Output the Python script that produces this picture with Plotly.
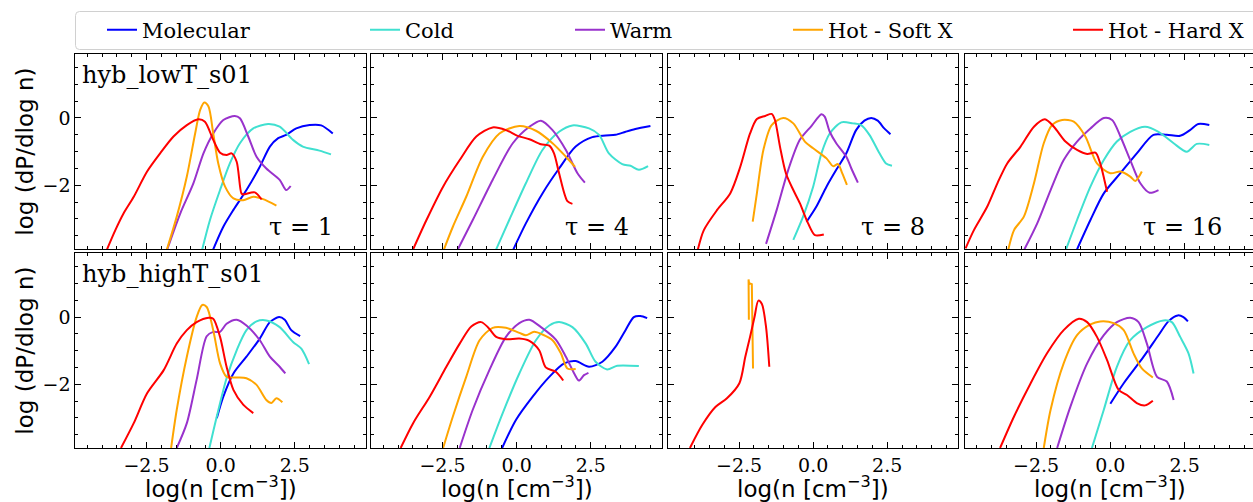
import plotly.graph_objects as go

W, H = 1253, 502

SERIES = ["Molecular", "Cold", "Warm", "Hot - Soft X", "Hot - Hard X"]
COLORS = ["#0000ff", "#40e0d0", "#9932cc", "#ffa500", "#ff0000"]
RUNS = ["hyb_lowT_s01", "hyb_highT_s01"]
TAUS = [1, 4, 8, 16]
X_TICKS = [-2.5, 0.0, 2.5]
Y_TICKS = [0, -2]

# ---------------- hyb_lowT_s01 ----------------
lowT_t1_mol_x = [-0.25, 0.09, 0.43, 0.87, 1.32, 1.66, 1.94, 2.21, 2.55, 3.00, 3.39, 3.78]
lowT_t1_mol_y = [-3.9, -3.23, -2.73, -2.14, -1.45, -0.85, -0.60, -0.50, -0.31, -0.21, -0.22, -0.46]
lowT_t1_cold_x = [-0.62, -0.36, -0.02, 0.31, 0.65, 1.10, 1.60, 1.99, 2.44, 2.77, 3.33, 3.72]
lowT_t1_cold_y = [-3.9, -3.03, -2.14, -1.35, -0.75, -0.31, -0.18, -0.26, -0.65, -0.85, -0.97, -1.08]
lowT_t1_warm_x = [-1.80, -1.36, -0.92, -0.58, -0.25, 0.09, 0.48, 0.65, 0.93, 1.21, 1.54, 1.99, 2.21, 2.36]
lowT_t1_warm_y = [-3.9, -2.83, -1.94, -1.05, -0.46, -0.06, 0.06, -0.01, -0.55, -1.15, -1.50, -1.84, -2.14, -2.02]
lowT_t1_soft_x = [-1.81, -1.48, -1.14, -0.86, -0.69, -0.55, -0.41, -0.25, -0.08, 0.15, 0.43, 0.76, 1.10, 1.43, 1.88]
lowT_t1_soft_y = [-3.9, -2.93, -1.74, -0.46, 0.24, 0.46, 0.34, -0.46, -1.35, -2.04, -2.39, -2.44, -2.34, -2.41, -2.60]
lowT_t1_hard_x = [-3.83, -3.55, -3.27, -2.93, -2.48, -2.04, -1.59, -1.14, -0.75, -0.53, -0.25, -0.02, 0.20, 0.37, 0.54, 0.70, 0.76, 1.15, 1.38]
lowT_t1_hard_y = [-3.9, -3.33, -2.83, -2.34, -1.59, -1.05, -0.55, -0.21, -0.04, -0.11, -0.65, -1.03, -1.10, -1.05, -1.30, -2.24, -2.27, -2.21, -2.42]

lowT_t4_mol_x = [-0.11, 0.31, 0.87, 1.43, 1.99, 2.55, 3.00, 3.33, 3.67, 4.00, 4.51]
lowT_t4_mol_y = [-3.9, -3.13, -2.24, -1.50, -0.85, -0.57, -0.52, -0.50, -0.41, -0.33, -0.24]
lowT_t4_cold_x = [-0.69, -0.25, 0.31, 0.87, 1.43, 1.88, 2.44, 2.78, 3.11, 3.56, 3.84, 4.12, 4.43]
lowT_t4_cold_y = [-3.9, -3.03, -1.94, -0.95, -0.41, -0.22, -0.31, -0.50, -1.05, -1.37, -1.42, -1.54, -1.43]
lowT_t4_warm_x = [-1.98, -1.48, -0.81, -0.13, 0.43, 0.82, 1.21, 1.66, 2.05, 2.30]
lowT_t4_warm_y = [-3.9, -3.03, -1.84, -0.75, -0.26, -0.08, -0.36, -0.95, -1.64, -1.92]
lowT_t4_soft_x = [-2.45, -2.15, -1.70, -1.14, -0.58, 0.09, 0.65, 1.21, 1.66, 1.97]
lowT_t4_soft_y = [-3.9, -3.23, -2.34, -1.15, -0.46, -0.24, -0.38, -0.75, -1.15, -1.45]
lowT_t4_hard_x = [-3.49, -3.04, -2.48, -1.92, -1.36, -0.81, -0.36, 0.03, 0.43, 0.82, 1.10, 1.26, 1.43, 1.71, 1.88]
lowT_t4_hard_y = [-3.9, -3.03, -2.04, -1.25, -0.55, -0.28, -0.36, -0.53, -0.63, -0.78, -0.82, -1.05, -1.64, -2.47, -2.55]

lowT_t8_mol_x = [-0.22, 0.11, 0.45, 0.78, 1.12, 1.45, 1.73, 1.96, 2.18, 2.40, 2.61]
lowT_t8_mol_y = [-3.08, -2.63, -2.04, -1.54, -1.05, -0.36, -0.08, 0.0, -0.08, -0.31, -0.48]
lowT_t8_cold_x = [-0.67, -0.34, 0.0, 0.28, 0.56, 0.95, 1.34, 1.62, 1.90, 2.24, 2.46, 2.66]
lowT_t8_cold_y = [-3.62, -2.93, -2.04, -1.05, -0.46, -0.13, -0.16, -0.21, -0.50, -1.05, -1.35, -1.42]
lowT_t8_warm_x = [-1.59, -1.23, -0.84, -0.45, -0.06, 0.28, 0.39, 0.56, 0.78, 1.12, 1.29, 1.51]
lowT_t8_warm_y = [-3.74, -2.73, -1.54, -0.65, -0.24, 0.11, 0.04, -0.41, -0.75, -1.15, -1.50, -1.92]
lowT_t8_soft_x = [-2.04, -1.90, -1.68, -1.40, -1.01, -0.67, -0.28, 0.0, 0.45, 0.67, 0.84, 0.98, 1.14]
lowT_t8_soft_y = [-3.08, -2.24, -0.95, -0.21, 0.0, -0.16, -0.70, -0.90, -1.20, -1.43, -1.37, -1.64, -1.99]
lowT_t8_hard_x = [-3.89, -3.69, -3.24, -2.80, -2.46, -2.13, -1.90, -1.62, -1.40, -1.29, -1.12, -0.92, -0.67, -0.45, -0.17, 0.06, 0.36]
lowT_t8_hard_y = [-3.9, -3.33, -2.73, -2.24, -1.45, -0.46, -0.03, 0.06, 0.12, -0.06, -0.85, -1.64, -2.14, -2.53, -3.13, -3.48, -3.46]

lowT_t16_mol_x = [-1.12, -0.67, -0.22, 0.34, 0.89, 1.45, 1.90, 2.35, 2.68, 2.96, 3.33]
lowT_t16_mol_y = [-3.9, -3.03, -2.24, -1.64, -1.05, -0.50, -0.50, -0.53, -0.36, -0.18, -0.21]
lowT_t16_cold_x = [-1.49, -1.12, -0.67, -0.22, 0.22, 0.67, 1.17, 1.62, 2.13, 2.57, 2.91, 3.33]
lowT_t16_cold_y = [-3.9, -3.03, -2.04, -1.25, -0.70, -0.41, -0.26, -0.41, -0.75, -1.0, -0.77, -0.80]
lowT_t16_warm_x = [-2.89, -2.46, -2.01, -1.57, -1.12, -0.67, -0.22, 0.06, 0.34, 0.67, 1.01, 1.32, 1.62]
lowT_t16_warm_y = [-3.9, -3.13, -2.14, -1.25, -0.70, -0.31, 0.0, -0.06, -0.55, -1.25, -1.94, -2.22, -2.14]
lowT_t16_soft_x = [-3.43, -3.24, -2.91, -2.57, -2.24, -1.96, -1.62, -1.23, -0.84, -0.45, 0.0, 0.34, 0.67, 0.84, 1.06]
lowT_t16_soft_y = [-3.9, -3.33, -2.93, -1.94, -0.75, -0.21, -0.06, -0.11, -0.55, -1.35, -1.64, -1.59, -1.74, -1.87, -1.59]
lowT_t16_hard_x = [-4.87, -4.59, -4.14, -3.80, -3.47, -3.02, -2.57, -2.20, -1.90, -1.51, -1.12, -0.78, -0.50, -0.34, -0.20, -0.11]
lowT_t16_hard_y = [-3.87, -3.33, -2.63, -1.94, -1.35, -0.85, -0.26, -0.04, -0.26, -0.70, -0.95, -1.07, -1.03, -1.35, -1.84, -2.19]

# ---------------- hyb_highT_s01 ----------------
highT_t1_mol_x = [-0.13, 0.09, 0.43, 0.87, 1.32, 1.66, 1.97, 2.16, 2.38, 2.68]
highT_t1_mol_y = [-3.01, -2.37, -1.68, -1.18, -0.64, -0.15, 0.0, -0.08, -0.39, -0.57]
highT_t1_cold_x = [-0.38, -0.13, 0.20, 0.54, 0.87, 1.21, 1.54, 1.99, 2.44, 2.72, 2.98]
highT_t1_cold_y = [-3.9, -2.96, -1.82, -0.99, -0.39, -0.13, -0.10, -0.30, -0.74, -0.94, -1.40]
highT_t1_warm_x = [-1.48, -1.14, -0.81, -0.47, -0.25, -0.02, 0.20, 0.54, 0.87, 1.32, 1.66, 1.99, 2.18]
highT_t1_warm_y = [-3.9, -3.16, -1.87, -0.57, -0.44, -0.44, -0.20, -0.08, -0.25, -0.69, -1.18, -1.48, -1.68]
highT_t1_soft_x = [-1.67, -1.48, -1.14, -0.81, -0.62, -0.47, -0.25, -0.02, 0.20, 0.54, 0.87, 1.21, 1.54, 1.71, 1.88, 2.08]
highT_t1_soft_y = [-3.9, -2.76, -1.18, 0.0, 0.36, 0.30, -0.39, -1.38, -1.78, -1.80, -1.82, -2.02, -2.47, -2.56, -2.42, -2.54]
highT_t1_hard_x = [-3.36, -2.93, -2.48, -1.92, -1.48, -1.14, -0.81, -0.41, -0.25, -0.02, 0.20, 0.43, 0.76, 1.10]
highT_t1_hard_y = [-3.9, -3.16, -2.27, -1.58, -0.79, -0.39, -0.15, -0.02, -0.05, -0.59, -1.48, -2.17, -2.61, -2.86]

highT_t4_mol_x = [-0.49, -0.02, 0.54, 1.10, 1.60, 1.99, 2.44, 2.89, 3.33, 3.67, 3.95, 4.17, 4.40]
highT_t4_mol_y = [-3.9, -3.06, -2.37, -1.78, -1.38, -1.31, -1.48, -1.33, -0.89, -0.39, 0.0, 0.03, -0.03]
highT_t4_cold_x = [-0.92, -0.47, 0.09, 0.65, 1.10, 1.43, 1.88, 2.33, 2.66, 3.05, 3.39, 4.12]
highT_t4_cold_y = [-3.9, -2.86, -1.68, -0.69, -0.25, -0.15, -0.30, -0.79, -1.33, -1.56, -1.45, -1.46]
highT_t4_warm_x = [-1.92, -1.48, -0.92, -0.36, 0.09, 0.43, 0.82, 1.32, 1.66, 1.94, 2.10, 2.27, 2.42]
highT_t4_warm_y = [-3.9, -2.76, -1.58, -0.59, -0.18, -0.08, -0.30, -0.67, -1.18, -1.68, -1.89, -1.73, -1.66]
highT_t4_soft_x = [-2.48, -2.15, -1.70, -1.25, -0.81, -0.36, 0.09, 0.31, 0.59, 0.87, 1.21, 1.49, 1.71, 1.99]
highT_t4_soft_y = [-3.9, -2.96, -1.78, -0.69, -0.32, -0.32, -0.47, -0.54, -0.44, -0.52, -0.69, -1.08, -1.53, -1.55]
highT_t4_hard_x = [-3.91, -3.49, -2.93, -2.37, -1.92, -1.53, -1.20, -0.97, -0.69, -0.36, 0.09, 0.43, 0.76, 0.98, 1.32, 1.57]
highT_t4_hard_y = [-3.9, -3.16, -2.37, -1.48, -0.79, -0.28, -0.15, -0.30, -0.59, -0.66, -0.64, -0.71, -0.99, -1.50, -1.63, -1.89]

highT_t8_soft_x = [-2.17, -2.18, -2.16, -2.12, -2.07, -2.03]
highT_t8_soft_y = [-0.08, 1.12, 0.98, 1.00, 0.98, -1.53]
highT_t8_hard_x = [-4.16, -3.74, -3.30, -2.91, -2.49, -2.29, -2.13, -1.98, -1.85, -1.73, -1.59, -1.48]
highT_t8_hard_y = [-3.9, -3.21, -2.68, -2.42, -1.97, -1.18, -0.59, 0.0, 0.49, 0.39, -0.30, -1.48]

highT_t16_mol_x = [0.0, 0.45, 1.12, 1.62, 1.96, 2.27, 2.46, 2.61]
highT_t16_mol_y = [-2.58, -1.97, -1.18, -0.54, -0.12, 0.05, 0.0, -0.13]
highT_t16_cold_x = [-0.62, -0.22, 0.22, 0.67, 1.23, 1.79, 2.07, 2.35, 2.63, 2.80]
highT_t16_cold_y = [-3.9, -2.76, -1.48, -0.69, -0.30, -0.10, -0.15, -0.59, -1.08, -1.68]
highT_t16_warm_x = [-1.79, -1.34, -0.78, -0.22, 0.22, 0.67, 0.95, 1.23, 1.57, 1.90, 2.13]
highT_t16_warm_y = [-3.9, -2.66, -1.38, -0.54, -0.15, -0.02, -0.15, -0.79, -1.78, -1.92, -2.47]
highT_t16_soft_x = [-2.24, -2.01, -1.57, -1.12, -0.67, -0.34, 0.11, 0.45, 0.78, 1.06, 1.43]
highT_t16_soft_y = [-3.9, -2.76, -1.38, -0.54, -0.22, -0.13, -0.18, -0.39, -1.08, -1.53, -1.80]
highT_t16_hard_x = [-3.71, -3.24, -2.68, -2.13, -1.57, -1.06, -0.78, -0.45, -0.11, 0.28, 0.56, 0.89, 1.17, 1.43]
highT_t16_hard_y = [-3.9, -2.96, -1.97, -1.08, -0.39, -0.05, -0.15, -0.59, -1.28, -2.17, -2.32, -2.56, -2.63, -2.49]

g = globals()
KEYS = ["mol", "cold", "warm", "soft", "hard"]
RUN_KEYS = ["lowT", "highT"]

# ---------------- layout geometry (pixels) ----------------
COL_PX = [(75.3, 366.0), (371.3, 662.0), (668.0, 958.3), (964.7, 1253.0)]
ROW_PX = [(54.0, 249.3), (253.3, 448.0)]
X_RANGE = [-4.9, 4.9]
X_RANGE_LAST = [-4.9, 4.80]
Y_RANGE = [-3.9, 1.9]

def px(x):
    return x / W

def py(y):
    return 1 - y / H

fig = go.Figure()
layout = dict(
    width=W, height=H,
    margin=dict(l=0, r=0, t=0, b=0),
    paper_bgcolor="white", plot_bgcolor="white",
    showlegend=True,
    font=dict(family="DejaVu Serif", color="black", size=19),
)

TICKFONT = dict(family="DejaVu Serif", size=19, color="black")

for r in range(2):
    for c in range(4):
        i = r * 4 + c + 1
        sfx = "" if i == 1 else str(i)
        xa = dict(
            domain=[px(COL_PX[c][0]), px(COL_PX[c][1])],
            range=X_RANGE_LAST if c == 3 else X_RANGE,
            anchor="y" + sfx,
            showline=True, linecolor="black", linewidth=1, mirror="ticks",
            ticks="inside", ticklen=6, tickwidth=1, tickcolor="black",
            tickvals=X_TICKS, tickformat=".1f",
            minor=dict(ticks="inside", dtick=0.5, tick0=0, ticklen=3, tickwidth=1, tickcolor="black"),
            showgrid=False, zeroline=False,
            showticklabels=(r == 1), tickfont=TICKFONT,
        )
        ya = dict(
            domain=[py(ROW_PX[r][1]), py(ROW_PX[r][0])],
            range=Y_RANGE,
            anchor="x" + sfx,
            showline=True, linecolor="black", linewidth=1, mirror="ticks",
            ticks="inside", ticklen=6, tickwidth=1, tickcolor="black",
            tickvals=Y_TICKS, tickformat="d",
            minor=dict(ticks="inside", dtick=0.5, tick0=0, ticklen=3, tickwidth=1, tickcolor="black"),
            showgrid=False, zeroline=False,
            showticklabels=(c == 0), tickfont=TICKFONT,
        )
        layout["xaxis" + sfx] = xa
        layout["yaxis" + sfx] = ya

        for k, key in enumerate(KEYS):
            name_x = f"{RUN_KEYS[r]}_t{TAUS[c]}_{key}_x"
            name_y = f"{RUN_KEYS[r]}_t{TAUS[c]}_{key}_y"
            if name_x not in g:
                continue
            xs, ys = g[name_x], g[name_y]
            shape = "linear" if (r == 1 and c == 2 and key == "soft") else "spline"
            fig.add_trace(go.Scatter(
                x=xs, y=ys, mode="lines", name=SERIES[k],
                line=dict(color=COLORS[k], width=2, shape=shape, smoothing=0.8),
                xaxis="x" + sfx, yaxis="y" + sfx,
                showlegend=(i == 1),
                legend="legend" if k == 0 else f"legend{k + 1}",
                hoverinfo="skip",
            ))

# legends: one per entry, placed like a 5-column expanded matplotlib legend
LEG_TEXT_PX = [144, 407, 612, 830, 1110]
for k in range(5):
    lname = "legend" if k == 0 else f"legend{k + 1}"
    layout[lname] = dict(
        x=px(LEG_TEXT_PX[k] - 42), y=py(30), xanchor="left", yanchor="middle",
        orientation="h", bgcolor="rgba(0,0,0,0)", borderwidth=0,
        font=dict(family="DejaVu Serif", size=21, color="black"),
        itemwidth=30, tracegroupgap=0,
    )

# legend frame (rounded rectangle)
x0, x1, y0, y1, rr = 75.5, 1262, 11.5, 49.5, 4
path = (f"M {px(x0 + rr)},{py(y0)} L {px(x1 - rr)},{py(y0)} Q {px(x1)},{py(y0)} {px(x1)},{py(y0 + rr)} "
        f"L {px(x1)},{py(y1 - rr)} Q {px(x1)},{py(y1)} {px(x1 - rr)},{py(y1)} "
        f"L {px(x0 + rr)},{py(y1)} Q {px(x0)},{py(y1)} {px(x0)},{py(y1 - rr)} "
        f"L {px(x0)},{py(y0 + rr)} Q {px(x0)},{py(y0)} {px(x0 + rr)},{py(y0)} Z")
layout["shapes"] = [dict(type="path", xref="paper", yref="paper", path=path,
                         line=dict(color="#d0d0d0", width=1), fillcolor="rgba(255,255,255,0.8)",
                         layer="below")]

ann = []
# run labels
for r in range(2):
    ann.append(dict(text=RUNS[r], x=px(80), y=py(75 if r == 0 else 274), xref="paper", yref="paper",
                    xanchor="left", yanchor="middle", showarrow=False,
                    font=dict(family="DejaVu Serif", size=24, color="black")))
# tau labels
for c in range(4):
    ann.append(dict(text=f"τ = {TAUS[c]}", x=px(COL_PX[c][1] - (31 if c < 3 else 29)), y=py(227),
                    xref="paper", yref="paper", xanchor="right", yanchor="middle", showarrow=False,
                    font=dict(family="DejaVu Serif", size=24, color="black")))
# axis titles
for c in range(4):
    ann.append(dict(text="log(n [cm<sup>−3</sup>])", x=px((COL_PX[c][0] + COL_PX[c][0] + 290.7) / 2), y=py(487),
                    xref="paper", yref="paper", xanchor="center", yanchor="middle", showarrow=False,
                    font=dict(family="DejaVu Sans", size=23, color="black")))
for r in range(2):
    ann.append(dict(text="log (dP/dlog n)", x=px(25), y=py((ROW_PX[r][0] + ROW_PX[r][1]) / 2),
                    xref="paper", yref="paper", xanchor="center", yanchor="middle", showarrow=False,
                    textangle=-90, font=dict(family="DejaVu Sans", size=23, color="black")))
layout["annotations"] = ann

fig.update_layout(**layout)
fig.write_html("out.html", config={"displayModeBar": False},
               post_script="document.body.style.margin='0';document.body.style.padding='0';document.body.style.overflow='hidden';")
